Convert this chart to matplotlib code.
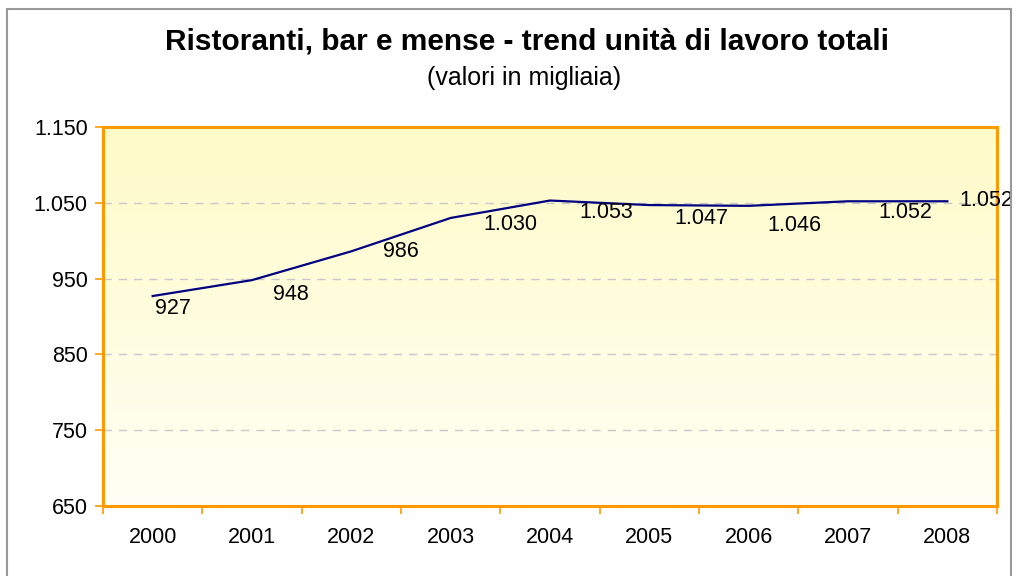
import numpy as np
import matplotlib.pyplot as plt
from matplotlib.patches import Rectangle
from matplotlib.ticker import FuncFormatter, FixedLocator

plt.rcParams['font.family'] = ['Liberation Sans', 'DejaVu Sans']

# ------------------------------------------------------------
# Data
# ------------------------------------------------------------

years = ["2000", "2001", "2002", "2003", "2004", "2005", "2006", "2007", "2008"]
unita_lavoro = [927, 948, 986, 1030, 1053, 1047, 1046, 1052, 1052]

title = "Ristoranti, bar e mense - trend unità di lavoro totali"
subtitle = "(valori in migliaia)"

# label offsets in pixels (layout only)
label_dx = [20, 39, 50, 60, 56, 52, 46, 57, 40]
label_dy = [-12, -14, 0, -7, -12, -13, -20, -11, 1]


def fmt_it(v, pos=None):
    return f"{int(round(v)):,}".replace(",", ".")


W, H = 1016, 576
fig = plt.figure(figsize=(W / 100, H / 100), dpi=100)
fig.patch.set_facecolor("white")

# outer chart border
fig.patches.append(Rectangle((7 / W, -0.05), (1011 - 7) / W, 1.05 - 9 / H,
                             transform=fig.transFigure, fill=False,
                             edgecolor="#999999", linewidth=1.5))

ax = fig.add_axes([103 / W, 1 - 506 / H, (997 - 103) / W, (506 - 127) / H])

# yellow gradient background
grad = np.linspace(0, 1, 256).reshape(-1, 1)
top = np.array([255, 251, 200]) / 255
bottom = np.array([255, 255, 245]) / 255
img = top * (1 - grad[..., None]) + bottom * grad[..., None]
img = np.repeat(img, 2, axis=1)
ax.imshow(img, extent=[0, 1, 0, 1], transform=ax.transAxes,
          aspect="auto", zorder=0, origin="upper")

x = np.arange(len(years))
ax.plot(x, unita_lavoro, color="#000080", linewidth=1.6, zorder=3)

for i, v in enumerate(unita_lavoro):
    last = i == len(years) - 1
    ax.annotate(fmt_it(v), (x[i], v),
                xytext=(12 if last else label_dx[i], label_dy[i]),
                textcoords="offset pixels", ha="left" if last else "center",
                va="center", fontsize=15.5, color="black", zorder=4,
                annotation_clip=False)

ax.set_xlim(-0.5, len(years) - 0.5)
ax.set_ylim(650, 1150)

ax.yaxis.set_major_locator(FixedLocator([650, 750, 850, 950, 1050, 1150]))
ax.yaxis.set_major_formatter(FuncFormatter(fmt_it))
ax.grid(axis="y", color="#c8c8c8", linestyle=(0, (6, 5)), linewidth=1, zorder=1)

ax.set_xticks(np.arange(len(years) + 1) - 0.5)
ax.set_xticklabels([])
ax.set_xticks(x, minor=True)
ax.set_xticklabels(years, minor=True)
ax.tick_params(axis="x", which="minor", length=0, pad=15, labelsize=15.5)
ax.tick_params(axis="x", which="major", length=6, color="#FF9900", width=1.2, direction="out")
ax.tick_params(axis="y", length=6, color="#FF9900", width=1.2, direction="out", pad=5, labelsize=15.5)

for s in ax.spines.values():
    s.set_color("#FF9900")
    s.set_linewidth(2.2)

fig.text(527 / W, 1 - 42 / H, title, ha="center", va="center",
         fontsize=21.5, fontweight="bold")
fig.text(524 / W, 1 - 78 / H, subtitle, ha="center", va="center", fontsize=18)

fig.savefig("out.png", dpi=100)
